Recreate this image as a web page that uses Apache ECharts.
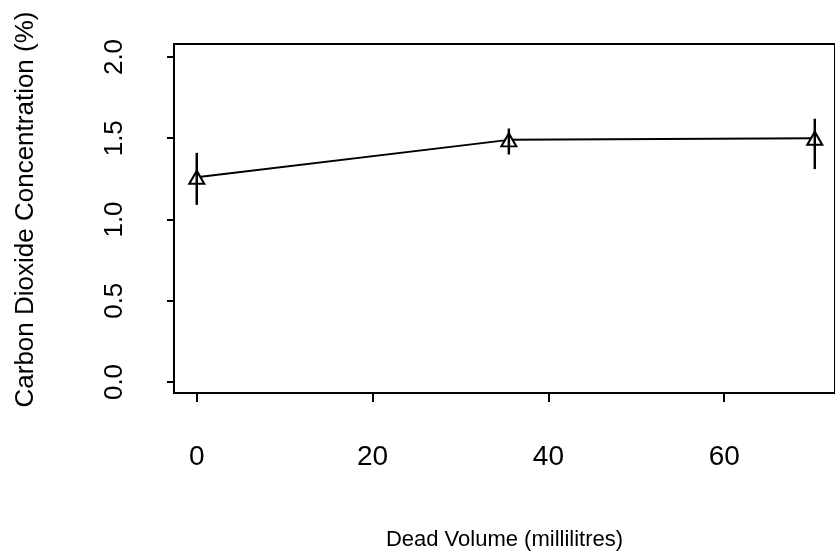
<!DOCTYPE html>
<html>
<head>
<meta charset="utf-8">
<script src="https://cdn.jsdelivr.net/npm/echarts@6/dist/echarts.min.js"></script>
<style>
html, body { margin: 0; padding: 0; background: #fff; }
#chart { width: 835px; height: 558px; }
</style>
</head>
<body>
<div id="chart"></div>
<script>
// values
var deadVolume = [0, 35.5, 70.3];
var co2Mean = [1.26, 1.49, 1.50];
var co2Low = [1.09, 1.40, 1.31];
var co2High = [1.41, 1.56, 1.62];
var xTicks = [0, 20, 40, 60];
var yTicks = [0, 0.5, 1, 1.5, 2];

var meanData = deadVolume.map(function (x, i) { return [x, co2Mean[i]]; });
var errData = deadVolume.map(function (x, i) { return [x, co2Low[i], co2High[i]]; });

var black = '#000';
var font = 'Liberation Sans, Arial, Helvetica, sans-serif';

var chart = echarts.init(document.getElementById('chart'));
chart.setOption({
  animation: false,
  textStyle: { fontFamily: font },
  grid: {
    left: 174, top: 44, right: -6, bottom: 165,
    show: true, borderColor: black, borderWidth: 2
  },
  xAxis: {
    type: 'value',
    min: -2.59,
    max: 72.6,
    name: 'Dead Volume (millilitres)',
    nameLocation: 'middle',
    nameGap: 136,
    nameTextStyle: { fontSize: 22, color: black, fontFamily: font },
    splitLine: { show: false },
    axisLine: { show: true, onZero: false, lineStyle: { color: black, width: 2 } },
    axisTick: { show: true, customValues: xTicks, length: 9, lineStyle: { color: black, width: 2 } },
    axisLabel: {
      customValues: xTicks, margin: 50, fontSize: 28, color: black,
      formatter: function (v) { return String(v); }
    }
  },
  yAxis: {
    type: 'value',
    min: -0.0677,
    max: 2.08,
    name: 'Carbon Dioxide Concentration (%)',
    nameLocation: 'middle',
    nameGap: 135,
    nameTextStyle: { fontSize: 26, color: black, fontFamily: font, padding: [0, 0, 0, 18] },
    splitLine: { show: false },
    axisLine: { show: true, onZero: false, lineStyle: { color: black, width: 2 } },
    axisTick: { show: true, customValues: yTicks, length: 7, lineStyle: { color: black, width: 2 } },
    axisLabel: {
      customValues: yTicks, rotate: 90, margin: 46, fontSize: 26, color: black,
      formatter: function (v) { return v.toFixed(1); }
    }
  },
  series: [
    {
      type: 'line',
      data: meanData,
      symbol: 'triangle',
      symbolSize: [15, 13],
      itemStyle: { color: '#fff', borderColor: black, borderWidth: 2 },
      lineStyle: { color: black, width: 2 },
      z: 2
    },
    {
      type: 'custom',
      data: errData,
      encode: { x: 0, y: [1, 2] },
      z: 3,
      renderItem: function (params, api) {
        var x = api.value(0);
        var hi = api.coord([x, api.value(2)]);
        var lo = api.coord([x, api.value(1)]);
        return {
          type: 'line',
          shape: { x1: hi[0], y1: hi[1], x2: lo[0], y2: lo[1] },
          style: { stroke: black, lineWidth: 2.5 }
        };
      }
    }
  ]
});
</script>
</body>
</html>
